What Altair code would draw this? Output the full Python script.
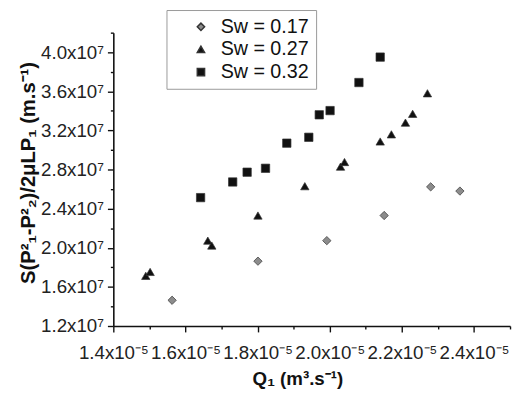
import altair as alt
import pandas as pd

# Q1 in units of 1e-5 m3/s, S(...) in units of 1e7 m/s
series = ["Sw = 0.17", "Sw = 0.27", "Sw = 0.32"]

q_017 = [1.563, 1.801, 1.992, 2.151, 2.280, 2.361]
s_017 = [1.463, 1.863, 2.073, 2.330, 2.623, 2.580]

q_027 = [1.490, 1.502, 1.662, 1.673, 1.801, 1.931, 2.030, 2.041, 2.140, 2.171, 2.210, 2.230, 2.271]
s_027 = [1.713, 1.753, 2.073, 2.023, 2.330, 2.630, 2.830, 2.877, 3.087, 3.160, 3.280, 3.370, 3.580]

q_032 = [1.642, 1.731, 1.771, 1.822, 1.881, 1.942, 1.971, 2.001, 2.081, 2.140]
s_032 = [2.513, 2.673, 2.773, 2.813, 3.070, 3.130, 3.360, 3.403, 3.690, 3.950]

x_ticks = [1.4, 1.5, 1.6, 1.7, 1.8, 1.9, 2.0, 2.1, 2.2, 2.3, 2.4, 2.5]
y_ticks = [1.2, 1.4, 1.6, 1.8, 2.0, 2.2, 2.4, 2.6, 2.8, 3.0, 3.2, 3.4, 3.6, 3.8, 4.0, 4.2]

rows = []
for name, qs, ss in [(series[0], q_017, s_017), (series[1], q_027, s_027), (series[2], q_032, s_032)]:
    for q, s in zip(qs, ss):
        rows.append({"Q": q, "S": s, "series": name})
df = pd.DataFrame(rows)

FONT = "Liberation Sans"

x_axis = alt.Axis(
    values=x_ticks,
    labelExpr="round(datum.value*10) % 2 == 0 ? format(datum.value, '.1f') + 'x10⁻⁵' : ''",
    title="Q₁ (m³.s⁻¹)",
    titleFont=FONT, titleFontSize=19, titleFontWeight="bold", titleColor="#111",
    titlePadding=7, titleX=187,
    labelFont=FONT, labelFontSize=19, labelColor="#222", labelPadding=12,
    labelOverlap=False, labelFlush=False,
    domainColor="#111", domainWidth=1.6,
    tickColor="#111", tickWidth=1.4,
    tickSize={"condition": {"test": "round(datum.value*10) % 2 == 0", "value": 6}, "value": 3},
    grid=False,
)
y_axis = alt.Axis(
    values=y_ticks,
    labelExpr="round(datum.value*10) % 4 == 0 ? format(datum.value, '.1f') + 'x10⁷' : ''",
    title="S(P²₁-P²₂)/2μLP₁ (m.s⁻¹)",
    titleFont=FONT, titleFontSize=20.5, titleFontWeight="bold", titleColor="#111",
    titlePadding=2, titleY=142,
    labelFont=FONT, labelFontSize=19, labelColor="#222", labelPadding=4,
    labelOverlap=False, labelFlush=False,
    domainColor="#111", domainWidth=1.6,
    tickColor="#111", tickWidth=1.4,
    tickSize={"condition": {"test": "round(datum.value*10) % 4 == 0", "value": 6}, "value": 3},
    grid=False,
)

legend = alt.Legend(title=None, orient="none", legendX=54, legendY=-23,
                    strokeColor="#999", fillColor="white", padding=7,
                    labelFont=FONT, labelFontSize=20, labelColor="#111",
                    labelOffset=10, rowPadding=3, symbolSize=55,
                    symbolOffset=18)

chart = alt.Chart(df).mark_point(filled=True, opacity=1, size=72, stroke="#333", strokeWidth=0.7).encode(
    x=alt.X("Q:Q", scale=alt.Scale(domain=[1.4, 2.5], nice=False, zero=False), axis=x_axis),
    y=alt.Y("S:Q", scale=alt.Scale(domain=[1.2, 4.2], nice=False, zero=False), axis=y_axis),
    shape=alt.Shape("series:N", scale=alt.Scale(domain=series, range=["diamond", "triangle-up", "square"]),
                    legend=legend),
    color=alt.Color("series:N", scale=alt.Scale(domain=series, range=["#8c8c8c", "#111111", "#111111"]),
                    legend=legend),
).properties(
    width=403, height=298,
    autosize=alt.AutoSizeParams(type="none"),
    padding={"left": 107, "top": 22, "right": 2, "bottom": 65},
).configure_view(stroke=None)

chart.save("out.html", embed_options={"renderer": "svg", "actions": False})
